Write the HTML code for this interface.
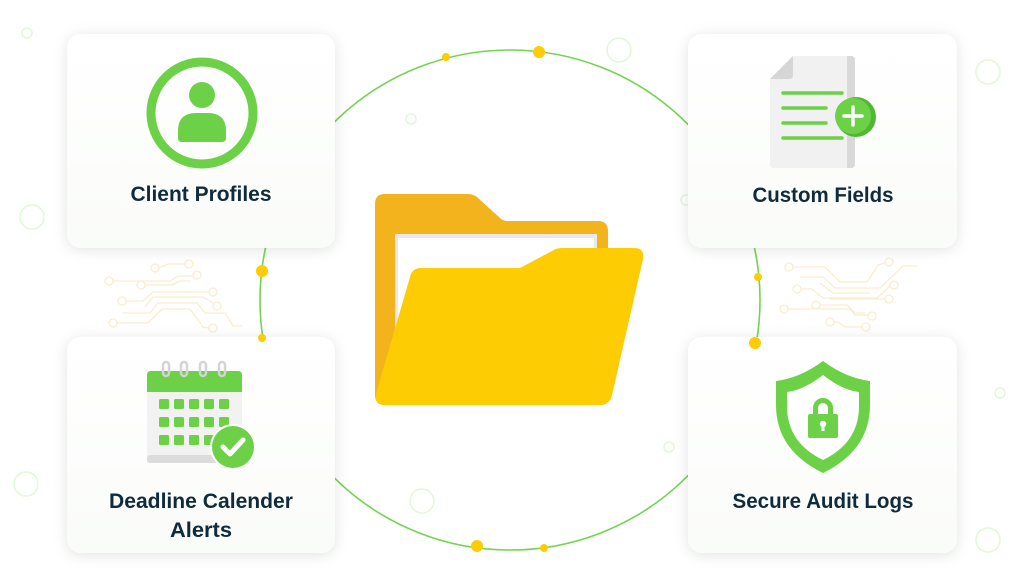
<!DOCTYPE html>
<html>
<head>
<meta charset="utf-8">
<style>
html,body{margin:0;padding:0;background:#fff;}
svg{display:block;}
text{font-family:"Liberation Sans",Arial,sans-serif;font-weight:bold;fill:#0f2b3c;}
</style>
</head>
<body>
<svg width="1024" height="587" viewBox="0 0 1024 587" xmlns="http://www.w3.org/2000/svg">
<defs>
<filter id="sh" x="-20%" y="-20%" width="140%" height="140%">
<feDropShadow dx="0" dy="2" stdDeviation="7" flood-color="#000" flood-opacity="0.11"/>
</filter>
<linearGradient id="cg" x1="0" y1="0" x2="0" y2="1">
<stop offset="0" stop-color="#ffffff"/>
<stop offset="1" stop-color="#fafcf9"/>
</linearGradient>
</defs>
<rect width="1024" height="587" fill="#fff"/>

<!-- decorative faint circles -->
<g fill="none" stroke="#e2f6da" stroke-width="1.5">
<circle cx="27" cy="33" r="5"/>
<circle cx="32" cy="217" r="12"/>
<circle cx="26" cy="484" r="12"/>
<circle cx="988" cy="72" r="12"/>
<circle cx="1000" cy="393" r="5"/>
<circle cx="988" cy="540" r="12"/>
<circle cx="619" cy="50" r="12"/>
<circle cx="411" cy="119" r="5"/>
<circle cx="422" cy="501" r="12"/>
<circle cx="669" cy="447" r="5"/>
<circle cx="686" cy="200" r="5"/>
</g>

<!-- circuit lines left -->
<g fill="none" stroke="#faedcd" stroke-width="1.3">
<circle cx="155" cy="268" r="4"/><polyline points="159,268 168,264 185,264"/><circle cx="189" cy="264" r="4"/>
<circle cx="109" cy="281" r="4"/><polyline points="113,281 170,281 178,276 193,276"/><circle cx="197" cy="275" r="4"/>
<circle cx="141" cy="285" r="4"/><polyline points="145,285 172,285 180,281 190,281"/>
<circle cx="122" cy="301" r="4"/><polyline points="126,301 143,301 153,292 209,292"/><circle cx="213" cy="292" r="4"/>
<polyline points="145,307 153,297 203,297 213,303"/><circle cx="217" cy="306" r="4"/>
<polyline points="123,313 150,313 158,303 197,303 205,313 225,313 233,326 242,326"/>
<circle cx="113" cy="323" r="4"/><polyline points="117,323 148,323 162,309 190,309 203,327 209,328"/><circle cx="213" cy="328" r="4"/>
</g>
<!-- circuit lines right -->
<g fill="none" stroke="#faedcd" stroke-width="1.3">
<circle cx="789" cy="267" r="4"/><polyline points="793,267 825,267 840,282 867,282 878,265 885,263"/><circle cx="889" cy="262" r="4"/>
<polyline points="800,277 823,277 835,288 880,288 903,266 918,266"/>
<circle cx="797" cy="289" r="4"/><polyline points="801,289 812,289 823,298 877,298 888,288 890,286"/><circle cx="894" cy="285" r="4"/>
<polyline points="820,283 833,293 870,293"/>
<polyline points="830,299 885,299"/><circle cx="889" cy="299" r="4"/>
<circle cx="784" cy="309" r="4"/><polyline points="788,309 850,309 855,315 868,315"/><circle cx="872" cy="316" r="4"/>
<circle cx="816" cy="305" r="4"/><polyline points="820,305 847,305 855,313 865,313"/>
<circle cx="830" cy="322" r="4"/><polyline points="834,322 838,322 845,327 862,327"/><circle cx="866" cy="327" r="4"/>
</g>

<!-- main ring -->
<circle cx="510" cy="300" r="250" fill="none" stroke="#74d452" stroke-width="1.6"/>

<!-- cards -->
<g filter="url(#sh)" fill="url(#cg)">
<rect x="67" y="34" width="268" height="214" rx="14"/>
<rect x="688" y="34" width="269" height="214" rx="14"/>
<rect x="67" y="337" width="268" height="216" rx="14"/>
<rect x="688" y="337" width="269" height="216" rx="14"/>
</g>

<!-- yellow dots -->
<g fill="#fdcc02">
<circle cx="539" cy="52" r="6"/>
<circle cx="446" cy="57" r="4"/>
<circle cx="477" cy="546" r="6"/>
<circle cx="544" cy="548" r="4"/>
<circle cx="262" cy="271" r="6"/>
<circle cx="262" cy="338" r="4"/>
<circle cx="758" cy="277" r="4"/>
<circle cx="755" cy="343" r="6"/>
</g>

<!-- folder -->
<path d="M375,204 q0,-10 10,-10 H468 q6,0 10,4 L500,218 q3,3 8,3 H598 q10,0 10,10 V395 q0,10 -10,10 H385 q-10,0 -10,-10 Z" fill="#f2b31d"/>
<rect x="395" y="234" width="202" height="150" fill="#e9e9e9"/>
<rect x="398" y="238" width="196" height="146" fill="#ffffff"/>
<path d="M410,277 q2,-9 11,-9 H520 L552,251 q4,-3 10,-3 H634 q11,0 9,11 L612,395 q-2,10 -12,10 H385 q-11,0 -9,-11 Z" fill="#fdcc02"/>

<!-- Client Profiles icon -->
<circle cx="202" cy="113" r="51" fill="none" stroke="#6cd146" stroke-width="9"/>
<circle cx="202" cy="95" r="13" fill="#6cd146"/>
<path d="M182,142 q-4,0 -4,-4 V131 q0,-18 18,-18 h12 q18,0 18,18 v7 q0,4 -4,4 Z" fill="#6cd146"/>
<text x="201" y="201" font-size="21" text-anchor="middle" textLength="141" lengthAdjust="spacingAndGlyphs">Client Profiles</text>

<!-- Custom Fields icon -->
<path d="M793,56 H851 q4,0 4,4 V164 q0,4 -4,4 H774 q-4,0 -4,-4 V79 Z" fill="#d9d9d9"/>
<path d="M793,56 H847 V168 H774 q-4,0 -4,-4 V79 Z" fill="#f1f1f1"/>
<path d="M793,56 L770,79 H789 q4,0 4,-4 Z" fill="#d6d6d6"/>
<g stroke="#6cd146" stroke-width="3.5" stroke-linecap="round">
<line x1="783" y1="93" x2="842" y2="93"/>
<line x1="783" y1="108" x2="826" y2="108"/>
<line x1="783" y1="123" x2="826" y2="123"/>
<line x1="783" y1="138" x2="842" y2="138"/>
</g>
<circle cx="856" cy="117" r="20" fill="#52b834"/>
<circle cx="853" cy="116" r="18" fill="#6cd146"/>
<g stroke="#fff" stroke-width="3.5" stroke-linecap="round">
<line x1="844" y1="116" x2="862" y2="116"/>
<line x1="853" y1="107" x2="853" y2="125"/>
</g>
<text x="823" y="202" font-size="21" text-anchor="middle" textLength="141" lengthAdjust="spacingAndGlyphs">Custom Fields</text>

<!-- Calendar icon -->
<rect x="147" y="371" width="95" height="92" rx="4" fill="#f2f2f2"/>
<rect x="147" y="455" width="95" height="8" rx="3" fill="#dcdcdc"/>
<path d="M147,392 V375 q0,-4 4,-4 H238 q4,0 4,4 V392 Z" fill="#6cd146"/>
<g fill="none" stroke="#d4d4d4" stroke-width="2.5">
<rect x="163" y="362" width="6" height="14" rx="3"/>
<rect x="181" y="362" width="6" height="14" rx="3"/>
<rect x="200" y="362" width="6" height="14" rx="3"/>
<rect x="219" y="362" width="6" height="14" rx="3"/>
</g>
<g fill="#6cd146">
<rect x="159" y="399" width="10" height="10" rx="1.5"/><rect x="174" y="399" width="10" height="10" rx="1.5"/><rect x="189" y="399" width="10" height="10" rx="1.5"/><rect x="204" y="399" width="10" height="10" rx="1.5"/><rect x="219" y="399" width="10" height="10" rx="1.5"/>
<rect x="159" y="417" width="10" height="10" rx="1.5"/><rect x="174" y="417" width="10" height="10" rx="1.5"/><rect x="189" y="417" width="10" height="10" rx="1.5"/><rect x="204" y="417" width="10" height="10" rx="1.5"/><rect x="219" y="417" width="10" height="10" rx="1.5"/>
<rect x="159" y="435" width="10" height="10" rx="1.5"/><rect x="174" y="435" width="10" height="10" rx="1.5"/><rect x="189" y="435" width="10" height="10" rx="1.5"/><rect x="204" y="435" width="10" height="10" rx="1.5"/>
</g>
<circle cx="233" cy="447" r="23" fill="#fff"/>
<circle cx="233" cy="447" r="21" fill="#6cd146"/>
<polyline points="223,447 230,454 243,440" fill="none" stroke="#fff" stroke-width="5" stroke-linecap="round" stroke-linejoin="round"/>
<text x="201" y="508" font-size="21" text-anchor="middle" textLength="184" lengthAdjust="spacingAndGlyphs">Deadline Calender</text>
<text x="201" y="537" font-size="21" text-anchor="middle" textLength="62" lengthAdjust="spacingAndGlyphs">Alerts</text>

<!-- Shield icon -->
<path d="M823,361 Q800,378 776,381 V405 Q776,450 823,473 Q870,450 870,405 V381 Q846,378 823,361 Z" fill="#6cd146"/>
<path d="M823,375 Q804,390 787,392 V408 Q788,443 823,460 Q858,443 859,408 V392 Q842,390 823,375 Z" fill="#fff"/>
<path d="M815.5,416 V408 a7.5,7.5 0 0 1 15,0 V416" fill="none" stroke="#6cd146" stroke-width="5"/>
<rect x="808" y="414" width="30" height="24" rx="2" fill="#6cd146"/>
<circle cx="823" cy="424" r="3.2" fill="#fff"/>
<rect x="821.5" y="424" width="3" height="7" fill="#fff"/>
<text x="823" y="508" font-size="21" text-anchor="middle" textLength="181" lengthAdjust="spacingAndGlyphs">Secure Audit Logs</text>
</svg>
</body>
</html>
